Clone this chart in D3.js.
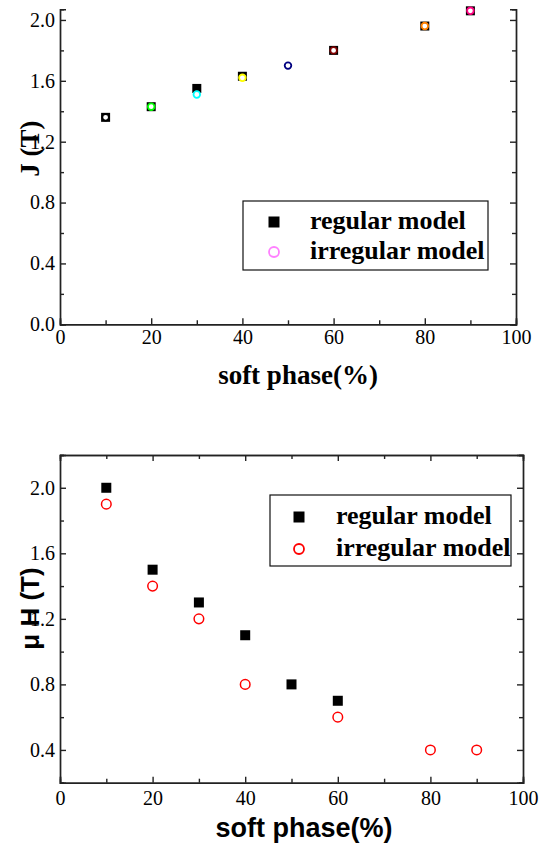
<!DOCTYPE html>
<meta charset="utf-8">
<style>
  body { margin: 0; background: white; }
  .axis path, .axis line { stroke: #222; stroke-width: 1.4; }
</style>
<svg width="542" height="850"></svg>
<script src="https://d3js.org/d3.v7.min.js"></script>
<script>

// top panel (J)
var topRegX = [10, 20, 30, 40, 60, 80, 90],
    topRegY = [1.36, 1.43, 1.55, 1.63, 1.80, 1.96, 2.06];
var topIrrX = [10, 20, 30, 40, 50, 60, 80, 90],
    topIrrY = [1.36, 1.43, 1.51, 1.62, 1.70, 1.80, 1.96, 2.06],
    topIrrColors = ["#000000", "#00ff00", "#00ffff", "#ffff00", "#000080", "#800000", "#ff8000", "#ff0080"];

// bottom panel (mu H)
var botRegX = [10, 20, 30, 40, 50, 60],
    botRegY = [2.0, 1.5, 1.3, 1.1, 0.8, 0.7];
var botIrrX = [10, 20, 30, 40, 60, 80, 90],
    botIrrY = [1.9, 1.4, 1.2, 0.8, 0.6, 0.4, 0.4];

var xMajor = [0, 20, 40, 60, 80, 100],
    xMinor = [10, 30, 50, 70, 90];
var topYMajor = [0.0, 0.4, 0.8, 1.2, 1.6, 2.0],
    topYMinor = [0.2, 0.6, 1.0, 1.4, 1.8];
var botYMajor = [0.4, 0.8, 1.2, 1.6, 2.0],
    botYMinor = [0.2, 0.6, 1.0, 1.4, 1.8, 2.2];

var legendLabels = ["regular model", "irregular model"];

var SERIF = "'Liberation Serif', 'Times New Roman', serif",
    SANS = "'Liberation Sans', Arial, sans-serif";

var svg = d3.select("svg");
var fmt = d3.format(".1f");

function addAxis(g, axis, tx, ty) {
  var a = g.append("g").attr("class", "axis")
      .attr("transform", "translate(" + tx + "," + ty + ")")
      .call(axis);
  a.selectAll("text")
      .style("font-family", SERIF)
      .style("font-size", "20px")
      .style("fill", "#000");
  return a;
}

function drawAxes(g, x, y, yMajor, yMinor, opts) {
  var h = y.range()[0], top = y.range()[1], l = x.range()[0], w = x.range()[1];

  addAxis(g, d3.axisBottom(x).tickValues(xMajor).tickSize(-6).tickPadding(opts.xPad).tickFormat(d3.format("d")), 0, h);
  addAxis(g, d3.axisBottom(x).tickValues(xMinor).tickSize(-4).tickFormat(""), 0, h);

  addAxis(g, d3.axisLeft(y).tickValues(yMajor).tickSize(-6).tickPadding(5).tickFormat(fmt), l, 0);
  addAxis(g, d3.axisLeft(y).tickValues(yMinor).tickSize(-4).tickFormat(""), l, 0);

  addAxis(g, d3.axisRight(y).tickValues(yMajor).tickSize(-6).tickFormat(""), w, 0);
  addAxis(g, d3.axisRight(y).tickValues(yMinor).tickSize(-4).tickFormat(""), w, 0);

  if (opts.topFrame) {
    addAxis(g, d3.axisTop(x).tickValues(xMajor).tickSize(-6).tickFormat(""), 0, top);
    addAxis(g, d3.axisTop(x).tickValues(xMinor).tickSize(-4).tickFormat(""), 0, top);
  }
}

function drawLegend(g, box, circleColor) {
  g.append("rect")
      .attr("x", box.x).attr("y", box.y)
      .attr("width", box.w).attr("height", box.h)
      .attr("fill", "white").attr("stroke", "#111").attr("stroke-width", 1.2);
  g.append("rect")
      .attr("x", box.mx - 5.5).attr("y", box.row1 - 5.5)
      .attr("width", 11).attr("height", 11)
      .attr("fill", "#000");
  g.append("circle")
      .attr("cx", box.mx).attr("cy", box.row2)
      .attr("r", 5).attr("fill", "none")
      .attr("stroke", circleColor).attr("stroke-width", 1.8);
  g.selectAll("text.leg")
    .data(legendLabels)
    .enter().append("text")
      .attr("class", "leg")
      .attr("x", box.tx)
      .attr("y", function(d, i) { return i === 0 ? box.row1 + 7 : box.row2 + 7; })
      .style("font-family", SERIF)
      .style("font-weight", "bold")
      .style("font-size", "26px")
      .text(function(d) { return d; });
}

// ---------- top panel ----------
var x1 = d3.scaleLinear().domain([0, 100]).range([60, 516]),
    y1 = d3.scaleLinear().domain([0, 2.07]).range([324.3, 9.3]);
var g1 = svg.append("g");

drawAxes(g1, x1, y1, topYMajor, topYMinor, {xPad: 6, topFrame: false});

g1.selectAll(".sq")
  .data(topRegX)
  .enter().append("rect")
    .attr("class", "sq")
    .attr("x", function(d) { return x1(d) - 4.5; })
    .attr("y", function(d, i) { return y1(topRegY[i]) - 4.5; })
    .attr("width", 9).attr("height", 9)
    .attr("fill", "#000");

g1.selectAll(".ci")
  .data(topIrrX)
  .enter().append("circle")
    .attr("class", "ci")
    .attr("cx", function(d) { return x1(d); })
    .attr("cy", function(d, i) { return y1(topIrrY[i]); })
    .attr("r", 3.3)
    .attr("fill", "white")
    .attr("stroke", function(d, i) { return topIrrColors[i]; })
    .attr("stroke-width", 1.8);

g1.append("text")
    .attr("transform", "translate(39,148.5) rotate(-90)")
    .attr("text-anchor", "middle")
    .style("font-family", SERIF)
    .style("font-weight", "bold")
    .style("font-size", "27px")
    .text("J (T)");

g1.append("text")
    .attr("x", 298).attr("y", 384)
    .attr("text-anchor", "middle")
    .style("font-family", SERIF)
    .style("font-weight", "bold")
    .style("font-size", "27px")
    .text("soft phase(%)");

drawLegend(g1, {x: 243, y: 201, w: 245, h: 69, mx: 274, row1: 222, row2: 252, tx: 310}, "#ff80ff");

// ---------- bottom panel ----------
var x2 = d3.scaleLinear().domain([0, 100]).range([60, 523]),
    y2 = d3.scaleLinear().domain([0.2, 2.2]).range([782.7, 455]);
var g2 = svg.append("g");

drawAxes(g2, x2, y2, botYMajor, botYMinor, {xPad: 8, topFrame: true});

g2.selectAll(".sq")
  .data(botRegX)
  .enter().append("rect")
    .attr("class", "sq")
    .attr("x", function(d) { return x2(d) - 5; })
    .attr("y", function(d, i) { return y2(botRegY[i]) - 5; })
    .attr("width", 10).attr("height", 10)
    .attr("fill", "#000");

g2.selectAll(".ci")
  .data(botIrrX)
  .enter().append("circle")
    .attr("class", "ci")
    .attr("cx", function(d) { return x2(d); })
    .attr("cy", function(d, i) { return y2(botIrrY[i]); })
    .attr("r", 4.8)
    .attr("fill", "none")
    .attr("stroke", "#ff0000")
    .attr("stroke-width", 1.5);

g2.append("text")
    .attr("transform", "translate(39,608.5) rotate(-90)")
    .attr("text-anchor", "middle")
    .style("font-family", SANS)
    .style("font-weight", "bold")
    .style("font-size", "26px")
    .text("μ H (T)");

g2.append("text")
    .attr("x", 304).attr("y", 837)
    .attr("text-anchor", "middle")
    .style("font-family", SANS)
    .style("font-weight", "bold")
    .style("font-size", "27px")
    .text("soft phase(%)");

drawLegend(g2, {x: 270, y: 495, w: 241, h: 71, mx: 299, row1: 517, row2: 549, tx: 336}, "#ff0000");

</script>
